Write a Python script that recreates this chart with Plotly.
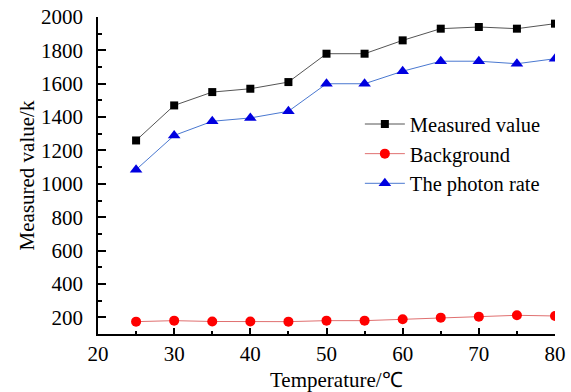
import plotly.graph_objects as go

temperature = [25, 30, 35, 40, 45, 50, 55, 60, 65, 70, 75, 80]
measured = [1260, 1470, 1550, 1570, 1610, 1780, 1780, 1860, 1930, 1940, 1930, 1960]
background = [174, 180, 175, 175, 174, 180, 180, 188, 198, 204, 212, 208]
photon = [1085, 1290, 1375, 1395, 1435, 1600, 1600, 1675, 1735, 1735, 1720, 1750]

FONT = "Liberation Serif, Times New Roman, serif"
FS = 21

fig = go.Figure()
fig.add_trace(go.Scatter(x=temperature, y=measured, name="Measured value", mode="lines+markers",
                         line=dict(color="#555555", width=1),
                         marker=dict(symbol="square", size=8, color="black")))
fig.add_trace(go.Scatter(x=temperature, y=background, name="Background", mode="lines+markers",
                         line=dict(color="#e07070", width=1),
                         marker=dict(symbol="circle", size=10, color="#ff0000")))
fig.add_trace(go.Scatter(x=temperature, y=photon, name="The photon rate", mode="lines+markers",
                         line=dict(color="#4a78d0", width=1),
                         marker=dict(symbol="triangle-up", size=11, color="#0000e0")))

axis_common = dict(showline=True, linecolor="black", linewidth=1.5, ticks="inside",
                   tickcolor="black", tickwidth=1.5, showgrid=False, zeroline=False,
                   tickfont=dict(family=FONT, size=FS, color="black"),
                   mirror=False, automargin=False, ticklabeloverflow="allow")

fig.update_layout(
    width=571, height=392,
    margin=dict(l=98, r=16, t=17, b=58, autoexpand=False),
    plot_bgcolor="white", paper_bgcolor="white",
    font=dict(family=FONT, size=FS, color="black"),
    xaxis=dict(range=[20, 80], tickvals=[20, 30, 40, 50, 60, 70, 80], ticklen=6,
               minor=dict(tickvals=[25, 35, 45, 55, 65, 75], ticklen=3, ticks="inside",
                          tickcolor="black", tickwidth=1.5),
               **axis_common),
    yaxis=dict(range=[100, 2000], tickvals=list(range(200, 2001, 200)), ticklen=8,
               ticklabelstandoff=9,
               minor=dict(tickvals=list(range(300, 2000, 200)), ticklen=4, ticks="inside",
                          tickcolor="black", tickwidth=1.5),
               title=dict(text="Measured value/k", font=dict(family=FONT, size=FS), standoff=1),
               **axis_common),
    legend=dict(x=0.573, y=0.725, xanchor="left", yanchor="top", bgcolor="rgba(0,0,0,0)",
                font=dict(family=FONT, size=20.5), tracegroupgap=0, itemwidth=40),
    showlegend=True,
    annotations=[dict(text="Temperature/℃", xref="paper", yref="paper", x=0.522, y=0,
                      xanchor="center", yanchor="middle", yshift=-46, showarrow=False,
                      font=dict(family=FONT, size=FS, color="black"))],
)

fig.write_html("out.html", config={"displayModeBar": False},
               post_script="document.body.style.margin='0';")
